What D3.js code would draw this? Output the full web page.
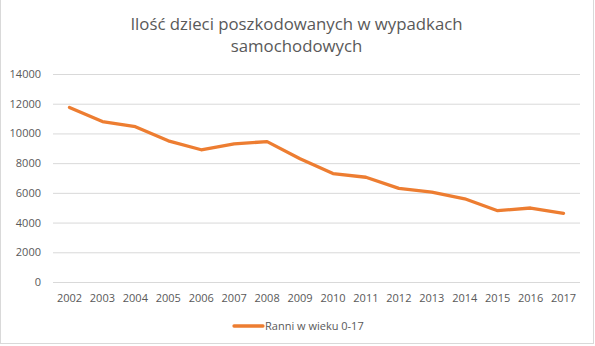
<!DOCTYPE html>
<html>
<head>
<meta charset="utf-8">
<script src="https://cdn.jsdelivr.net/npm/d3@7"></script>
<style>
  html, body { margin: 0; padding: 0; background: #fff; }
  svg { display: block; }
  text { font-family: "Open Sans", "Liberation Sans", sans-serif; fill: #595959; }
</style>
</head>
<body>
<div id="chart"></div>
<script>
// Children injured in road accidents, aged 0-17
const years = ["2002","2003","2004","2005","2006","2007","2008","2009",
               "2010","2011","2012","2013","2014","2015","2016","2017"];
const injured = [11750, 10800, 10450, 9500, 8900, 9300, 9450, 8300,
                 7300, 7050, 6300, 6050, 5600, 4800, 4980, 4620];
const yTicks = [0, 2000, 4000, 6000, 8000, 10000, 12000, 14000];
const titleLines = ["Ilość dzieci poszkodowanych w wypadkach", "samochodowych"];
const seriesName = "Ranni w wieku 0-17";

const W = 595, H = 346;
const margin = { left: 53, right: 15, top: 74, bottom: 64 };

const svg = d3.select("#chart").append("svg")
  .attr("width", W).attr("height", H);

// chart area border
svg.append("rect")
  .attr("x", 0.5).attr("y", -1)
  .attr("width", W - 2).attr("height", H - 1.5)
  .attr("fill", "none").attr("stroke", "#d9d9d9").attr("stroke-width", 1);

const x = d3.scaleBand().domain(years).range([margin.left, W - margin.right]);
const y = d3.scaleLinear().domain([0, 14000]).range([H - margin.bottom, margin.top]);

// title
svg.append("g").selectAll("text").data(titleLines).join("text")
  .attr("x", W / 2 - 1).attr("y", (d, i) => 30 + i * 22)
  .attr("text-anchor", "middle")
  .attr("font-size", 16.8)
  .text(d => d);

// horizontal gridlines + y labels
const yAxis = d3.axisLeft(y).tickValues(yTicks)
  .tickSize(-(W - margin.left - margin.right)).tickPadding(12)
  .tickFormat(d3.format("d"));
const gy = svg.append("g").attr("transform", `translate(${margin.left},0)`).call(yAxis);
gy.select(".domain").remove();
gy.selectAll(".tick line").attr("stroke", "#d9d9d9").attr("stroke-width", 1);
gy.selectAll(".tick text").attr("font-size", 11).attr("fill", "#595959");

// x labels
const xAxis = d3.axisBottom(x).tickSize(0).tickPadding(12);
const gx = svg.append("g").attr("transform", `translate(0,${H - margin.bottom})`).call(xAxis);
gx.select(".domain").remove();
gx.selectAll(".tick text").attr("font-size", 11).attr("fill", "#595959");

// series line
const line = d3.line()
  .x((d, i) => x(years[i]) + x.bandwidth() / 2)
  .y(d => y(d));
svg.append("path")
  .datum(injured)
  .attr("d", line)
  .attr("fill", "none")
  .attr("stroke", "#ED7D31")
  .attr("stroke-width", 3.3)
  .attr("stroke-linejoin", "round")
  .attr("stroke-linecap", "round");

// legend
const lg = svg.append("g").attr("transform", "translate(234,326)");
lg.append("line").attr("x1", 0).attr("x2", 29).attr("y1", 0).attr("y2", 0)
  .attr("stroke", "#ED7D31").attr("stroke-width", 3.3).attr("stroke-linecap", "round");
lg.append("text").attr("x", 31).attr("y", 4).attr("font-size", 11).text(seriesName);
</script>
</body>
</html>
